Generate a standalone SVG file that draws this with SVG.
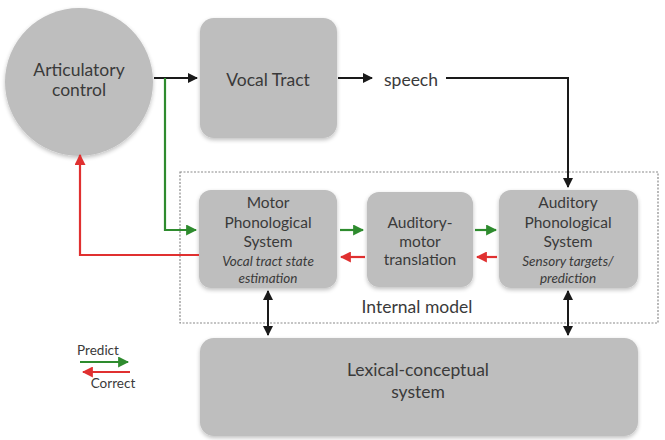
<svg xmlns="http://www.w3.org/2000/svg" width="665" height="440" viewBox="0 0 665 440">
<defs>
<style>
.node{fill:#bebebe;}
.t{font-family:Lato,"Open Sans","Liberation Sans",sans-serif;fill:#3a3a3a;text-anchor:middle;}
.big{font-size:17.5px;}
.mid{font-size:15.5px;}
.it{font-size:13.5px;font-style:italic;}
.k{stroke:#1a1a1a;stroke-width:2;fill:none;}
.g{stroke:#2e8b2e;stroke-width:2.2;fill:none;}
.r{stroke:#e03030;stroke-width:2.2;fill:none;}
</style>
<filter id="sh" x="-10%" y="-10%" width="120%" height="125%">
<feGaussianBlur in="SourceAlpha" stdDeviation="2"/>
<feOffset dx="0" dy="2" result="b"/>
<feComponentTransfer><feFuncA type="linear" slope="0.25"/></feComponentTransfer>
<feMerge><feMergeNode/><feMergeNode in="SourceGraphic"/></feMerge>
</filter>
<marker id="ak" viewBox="0 0 10 10" refX="9" refY="5" markerWidth="5" markerHeight="5" orient="auto-start-reverse"><path d="M0,0 L10,5 L0,10 z" fill="#1a1a1a"/></marker>
<marker id="ag" viewBox="0 0 10 10" refX="9" refY="5" markerWidth="5" markerHeight="5" orient="auto"><path d="M0,0 L10,5 L0,10 z" fill="#2e8b2e"/></marker>
<marker id="ar" viewBox="0 0 10 10" refX="9" refY="5" markerWidth="5" markerHeight="5" orient="auto"><path d="M0,0 L10,5 L0,10 z" fill="#e03030"/></marker>
</defs>
<rect width="665" height="440" fill="#ffffff"/>

<g id="internal-model">
<rect x="180" y="172" width="478" height="151" fill="none" stroke="#8a8a8a" stroke-width="1.2" stroke-dasharray="2,1.5"/>
<text class="t" x="417" y="313" font-size="17.5">Internal model</text>
</g>

<g id="articulatory-control">
<circle class="node" cx="79" cy="82" r="74" filter="url(#sh)"/>
<text class="t big" x="79" y="76">Articulatory</text>
<text class="t big" x="79" y="96">control</text>
</g>

<g id="vocal-tract">
<rect class="node" x="200" y="18" width="137" height="120" rx="14" filter="url(#sh)"/>
<text class="t big" x="268" y="86">Vocal Tract</text>
</g>

<g id="speech">
<text class="t big" x="411" y="86">speech</text>
</g>

<g id="motor-phonological">
<rect class="node" x="199" y="190" width="138" height="98" rx="12" filter="url(#sh)"/>
<text class="t mid" x="268" y="208">Motor</text>
<text class="t mid" x="268" y="228">Phonological</text>
<text class="t mid" x="268" y="247">System</text>
<text class="t it" x="268" y="266">Vocal tract state</text>
<text class="t it" x="268" y="283">estimation</text>
</g>

<g id="auditory-motor">
<rect class="node" x="367" y="192" width="106" height="95" rx="12" filter="url(#sh)"/>
<text class="t mid" x="420" y="228">Auditory-</text>
<text class="t mid" x="420" y="247">motor</text>
<text class="t mid" x="420" y="265">translation</text>
</g>

<g id="auditory-phonological">
<rect class="node" x="499" y="190" width="139" height="98" rx="12" filter="url(#sh)"/>
<text class="t mid" x="568" y="208">Auditory</text>
<text class="t mid" x="568" y="228">Phonological</text>
<text class="t mid" x="568" y="247">System</text>
<text class="t it" x="568" y="266">Sensory targets/</text>
<text class="t it" x="568" y="283">prediction</text>
</g>

<g id="lexical-conceptual">
<rect class="node" x="200" y="338" width="438" height="98" rx="14" filter="url(#sh)"/>
<text class="t big" x="418" y="376">Lexical-conceptual</text>
<text class="t big" x="418" y="398">system</text>
</g>

<g id="legend">
<text class="t" x="98" y="355" font-size="13.5">Predict</text>
<line class="g" x1="80" y1="362" x2="128" y2="362" marker-end="url(#ag)"/>
<line class="r" x1="130" y1="372" x2="83" y2="372" marker-end="url(#ar)"/>
<text class="t" x="113" y="388" font-size="13.5">Correct</text>
</g>

<g id="connectors">
<line class="k" x1="154" y1="78" x2="197" y2="78" marker-end="url(#ak)"/>
<line class="k" x1="338" y1="78" x2="372" y2="78" marker-end="url(#ak)"/>
<polyline class="k" points="446,78 568,78 568,187" marker-end="url(#ak)"/>
<polyline class="g" points="165,78 165,230 196,230" marker-end="url(#ag)"/>
<line class="g" x1="340" y1="230" x2="363" y2="230" marker-end="url(#ag)"/>
<line class="g" x1="475" y1="230" x2="496" y2="230" marker-end="url(#ag)"/>
<line class="r" x1="365" y1="257" x2="341" y2="257" marker-end="url(#ar)"/>
<line class="r" x1="497" y1="257" x2="477" y2="257" marker-end="url(#ar)"/>
<polyline class="r" points="199,255 80,255 80,155" marker-end="url(#ar)"/>
<line class="k" x1="268" y1="291" x2="268" y2="335" marker-start="url(#ak)" marker-end="url(#ak)"/>
<line class="k" x1="568" y1="291" x2="568" y2="335" marker-start="url(#ak)" marker-end="url(#ak)"/>
</g>
</svg>
